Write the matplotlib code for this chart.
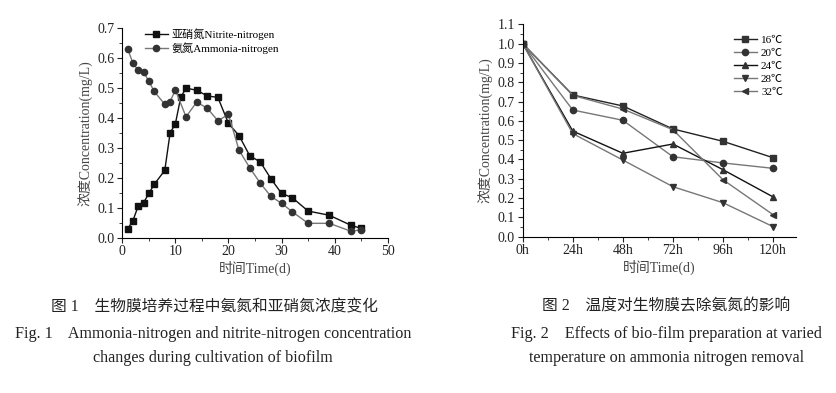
import matplotlib.pyplot as plt
from matplotlib.ticker import MultipleLocator

plt.rcParams['font.family'] = ['Liberation Serif', 'Noto Sans CJK SC']

# 图1 数据
days = [1, 2, 3, 4, 5, 6, 8, 9, 10, 11, 12, 14, 16, 18, 20, 22, 24, 26, 28, 30, 32, 35, 39, 43, 45]
nitrite = [0.029, 0.057, 0.106, 0.117, 0.148, 0.178, 0.225, 0.350, 0.381, 0.469, 0.500, 0.493, 0.474, 0.469,
           0.382, 0.341, 0.274, 0.253, 0.197, 0.148, 0.134, 0.089, 0.075, 0.042, 0.031]
days_nh = [1, 2, 3, 4, 5, 6, 8, 9, 10, 12, 14, 16, 18, 20, 22, 24, 26, 28, 30, 32, 35, 39, 43, 45]
ammonia = [0.632, 0.583, 0.560, 0.554, 0.523, 0.489, 0.446, 0.455, 0.494, 0.404, 0.453, 0.433, 0.391, 0.412,
           0.292, 0.234, 0.182, 0.138, 0.115, 0.087, 0.048, 0.048, 0.022, 0.026]

# 图2 数据
hours = [0, 24, 48, 72, 96, 120]
hour_labels = ['0h', '24h', '48h', '72h', '96h', '120h']
t16 = [1.0, 0.734, 0.677, 0.558, 0.494, 0.409]
t20 = [1.0, 0.656, 0.603, 0.414, 0.382, 0.354]
t24 = [1.0, 0.547, 0.432, 0.480, 0.347, 0.206]
t28 = [1.0, 0.534, 0.397, 0.259, 0.176, 0.052]
t32 = [1.0, 0.732, 0.661, 0.554, 0.295, 0.114]

fig = plt.figure(figsize=(8.36, 3.93), dpi=100)

def style(ax):
    for s in ['top', 'right']:
        ax.spines[s].set_visible(False)
    ax.tick_params(which='both', direction='out', labelsize=10, colors='#222222', pad=2)
    ax.tick_params(which='major', length=3.5)
    ax.tick_params(which='minor', length=2)
    ax.set_ylabel('浓度Concentration(mg/L)', fontsize=10, color='#444444', labelpad=3)
    ax.set_xlabel('时间Time(d)', fontsize=10, color='#444444', labelpad=2)

ax1 = fig.add_axes([0.1463, 0.3952, 0.3175, 0.5328])
ax1.plot(days, nitrite, '-s', color='#111111', ms=4.5, lw=1, label='亚硝氮Nitrite-nitrogen')
ax1.plot(days_nh, ammonia, '-o', color='#777777', mfc='#333333', mec='#333333', ms=4.5, lw=1,
         label='氨氮Ammonia-nitrogen')
ax1.set_xlim(0, 50)
ax1.set_ylim(0, 0.7)
ax1.xaxis.set_major_locator(MultipleLocator(10))
ax1.xaxis.set_minor_locator(MultipleLocator(5))
ax1.yaxis.set_major_locator(MultipleLocator(0.1))
ax1.yaxis.set_minor_locator(MultipleLocator(0.05))
ax1.yaxis.set_major_formatter(plt.FormatStrFormatter('%.1f'))
style(ax1)
ax1.legend(loc='upper left', bbox_to_anchor=(0.07, 1.02), frameon=False, fontsize=8,
           handlelength=2, labelspacing=0.2, borderaxespad=0, handletextpad=0.4)

ax2 = fig.add_axes([0.6252, 0.3977, 0.327, 0.5405])
series = [(t16, 's', '#222222', '16℃'), (t20, 'o', '#777777', '20℃'), (t24, '^', '#111111', '24℃'),
          (t28, 'v', '#777777', '28℃'), (t32, '<', '#777777', '32℃')]
for vals, m, c, lab in series:
    ax2.plot(hours, vals, '-' + m, color=c, mfc='#333333', mec='#333333', ms=4.5, lw=1, label=lab)
ax2.set_xlim(0, 131)
ax2.set_ylim(0, 1.1)
ax2.set_xticks(hours)
ax2.set_xticklabels(hour_labels)
ax2.xaxis.set_minor_locator(MultipleLocator(12))
ax2.yaxis.set_major_locator(MultipleLocator(0.1))
ax2.yaxis.set_minor_locator(MultipleLocator(0.05))
ax2.yaxis.set_major_formatter(plt.FormatStrFormatter('%.1f'))
style(ax2)
ax2.legend(loc='upper right', bbox_to_anchor=(0.97, 0.97), frameon=False, fontsize=8,
           handlelength=2, labelspacing=0.3, borderaxespad=0, handletextpad=0.4)

# 图题
cap = dict(ha='center', va='center', color='#222222')
fig.text(0.256, 1 - 307 / 393, '图 1　生物膜培养过程中氨氮和亚硝氮浓度变化', fontsize=11.3, **cap)
fig.text(0.255, 1 - 334 / 393, 'Fig. 1    Ammonia-nitrogen and nitrite-nitrogen concentration', fontsize=11.6, **cap)
fig.text(0.255, 1 - 358 / 393, 'changes during cultivation of biofilm', fontsize=11.6, **cap)
fig.text(0.797, 1 - 307 / 393, '图 2　温度对生物膜去除氨氮的影响', fontsize=11.3, **cap)
fig.text(0.797, 1 - 334 / 393, 'Fig. 2    Effects of bio-film preparation at varied', fontsize=11.6, **cap)
fig.text(0.797, 1 - 358 / 393, 'temperature on ammonia nitrogen removal', fontsize=11.6, **cap)

fig.savefig('out.png', dpi=100)
